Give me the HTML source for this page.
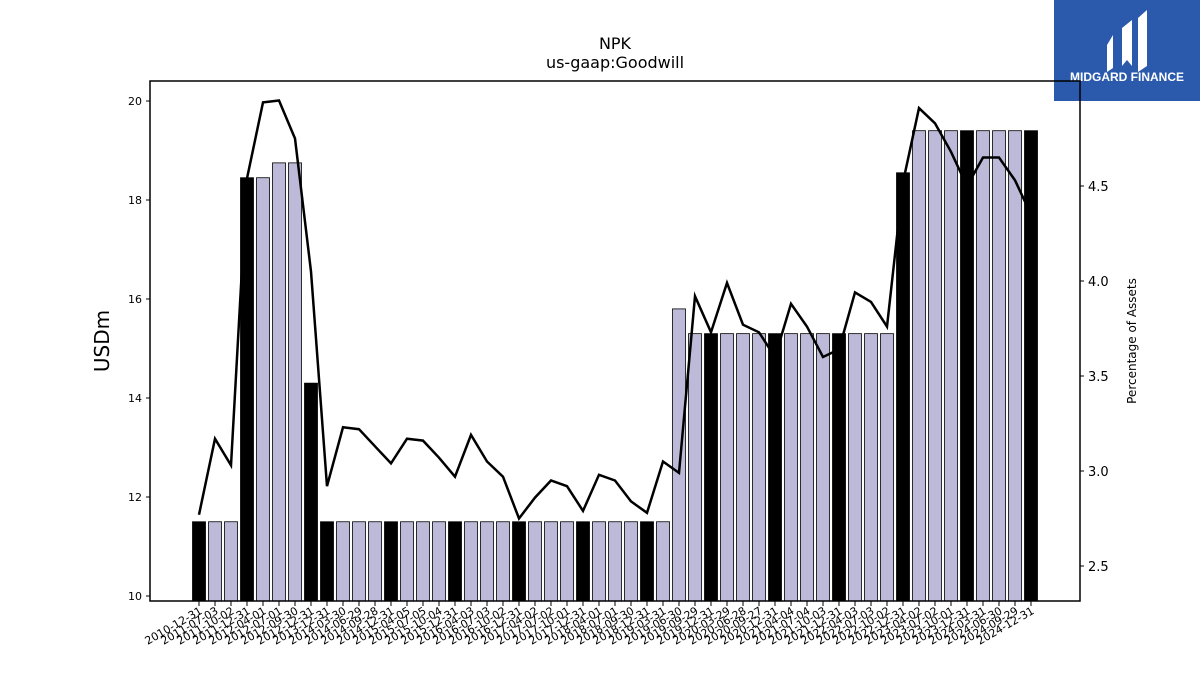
<!DOCTYPE html>
<html><head><meta charset="utf-8"><style>
body{margin:0;background:#fff;}
svg{display:block;font-family:"DejaVu Sans","Liberation Sans",sans-serif;}
</style></head><body>
<svg id="chart" width="1200" height="675" viewBox="0 0 1200 675">
<text x="615" y="49" text-anchor="middle" font-size="16">NPK</text>
<text x="615" y="68" text-anchor="middle" font-size="16">us-gaap:Goodwill</text>
<text transform="translate(109,341) rotate(-90)" text-anchor="middle" font-size="20">USDm</text>
<text transform="translate(1136,341) rotate(-90)" text-anchor="middle" font-size="12">Percentage of Assets</text>
<g>
<rect x="1054" y="0" width="146" height="101" fill="#2b5aad"/>
<path d="M1107,45 L1113,35 L1113,68 L1107,72 Z" fill="#fff"/>
<path d="M1122,28 L1132,20 L1132,66 L1127,60 L1122,66 Z" fill="#fff"/>
<path d="M1138,18 L1147,10 L1147,66 L1138,72 Z" fill="#fff"/>
<text x="1127" y="81" text-anchor="middle" font-size="12" font-weight="bold" fill="#fff" font-family="Liberation Sans, sans-serif">MIDGARD FINANCE</text>
</g>
<g id="bars"></g><g id="line"></g><g id="axes"></g>
</svg>
<script>
const categories=["2010-12-31","2011-07-03","2011-10-02","2011-12-31","2012-04-01","2012-07-01","2012-09-30","2012-12-31","2013-12-31","2014-03-30","2014-06-29","2014-09-28","2014-12-31","2015-04-05","2015-07-05","2015-10-04","2015-12-31","2016-04-03","2016-07-03","2016-10-02","2016-12-31","2017-04-02","2017-07-02","2017-10-01","2017-12-31","2018-04-01","2018-07-01","2018-09-30","2018-12-31","2019-03-31","2019-06-30","2019-09-29","2019-12-31","2020-03-29","2020-06-28","2020-09-27","2020-12-31","2021-04-04","2021-07-04","2021-10-03","2021-12-31","2022-04-03","2022-07-03","2022-10-02","2022-12-31","2023-04-02","2023-07-02","2023-10-01","2023-12-31","2024-03-31","2024-06-30","2024-09-29","2024-12-31"];
const goodwill=[11.5,11.5,11.5,18.45,18.45,18.75,18.75,14.3,11.5,11.5,11.5,11.5,11.5,11.5,11.5,11.5,11.5,11.5,11.5,11.5,11.5,11.5,11.5,11.5,11.5,11.5,11.5,11.5,11.5,11.5,15.8,15.3,15.3,15.3,15.3,15.3,15.3,15.3,15.3,15.3,15.3,15.3,15.3,15.3,18.55,19.4,19.4,19.4,19.4,19.4,19.4,19.4,19.4];
const pctAssets=[2.77,3.17,3.03,4.54,4.94,4.95,4.75,4.05,2.92,3.23,3.22,3.13,3.04,3.17,3.16,3.07,2.97,3.19,3.05,2.97,2.75,2.86,2.95,2.92,2.79,2.98,2.95,2.84,2.78,3.05,2.99,3.92,3.73,3.99,3.77,3.73,3.60,3.88,3.76,3.60,3.64,3.94,3.89,3.76,4.52,4.91,4.83,4.68,4.50,4.65,4.65,4.53,4.35];
const leftTicks=[10,12,14,16,18,20];
const rightTicks=[2.5,3.0,3.5,4.0,4.5];
const NS="http://www.w3.org/2000/svg";
const PL=150,PR=1080,PT=81,PB=601;
const yL=v=>596-(v-10)*49.5;
const yR=v=>471-(v-3)*190;
const xB=i=>199+i*16;
function mk(t,a,p){const e=document.createElementNS(NS,t);for(const k in a)e.setAttribute(k,a[k]);p.appendChild(e);return e;}
const bars=document.getElementById('bars'),line=document.getElementById('line'),axes=document.getElementById('axes');
goodwill.forEach((v,i)=>{
 const ye=categories[i].endsWith("12-31");
 const r=mk('rect',{x:xB(i)-6.5,y:yL(v),width:13,height:PB-yL(v),fill:ye?'#000':'#bcbad8',stroke:'#000','stroke-width':0.8},bars);
 
 
});
const pl=mk('polyline',{points:pctAssets.map((v,i)=>xB(i)+','+yR(v)).join(' '),fill:'none',stroke:'#000','stroke-width':2.5},line);


const fr=mk('rect',{x:PL,y:PT,width:PR-PL,height:PB-PT,fill:'none',stroke:'#000','stroke-width':1.5},axes);


leftTicks.forEach(v=>{
 mk('line',{x1:PL-4,x2:PL,y1:yL(v),y2:yL(v),stroke:'#000'},axes);
 const t=mk('text',{x:PL-8,y:yL(v)+4,'text-anchor':'end','font-size':11},axes);t.textContent=v;
 
 
});
rightTicks.forEach(v=>{
 mk('line',{x1:PR,x2:PR+4,y1:yR(v),y2:yR(v),stroke:'#000'},axes);
 const t=mk('text',{x:PR+8,y:yR(v)+5,'font-size':13},axes);t.textContent=v.toFixed(1);
 
 
});
categories.forEach((c,i)=>{
 mk('line',{x1:xB(i),x2:xB(i),y1:PB,y2:PB+5,stroke:'#000'},axes);
 const t=mk('text',{transform:'translate('+(xB(i)+4)+','+(PB+12)+') rotate(-30)','text-anchor':'end','font-size':11},axes);t.textContent=c;
 
 
});
</script>
</body></html>
